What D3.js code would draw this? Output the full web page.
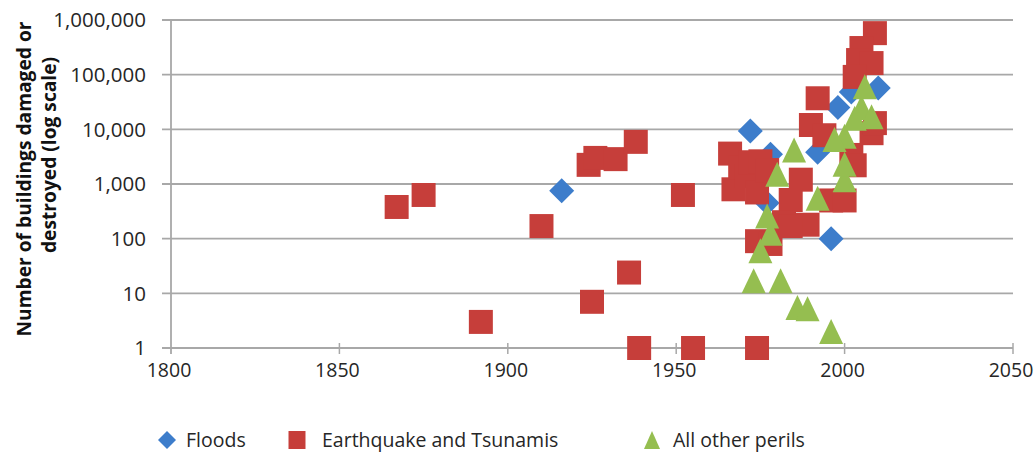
<!DOCTYPE html>
<html>
<head>
<meta charset="utf-8">
<script src="https://cdn.jsdelivr.net/npm/d3@7"></script>
<style>
  html, body { margin: 0; padding: 0; background: #ffffff; }
  svg { display: block; font-family: "Open Sans", "Noto Sans", sans-serif; }
</style>
</head>
<body>
<svg id="chart" width="1034" height="456"></svg>
<script>
// Buildings damaged or destroyed per event, by peril type (log scale)
const floodYears  = [1916, 1972, 1977, 1978, 1992, 1996, 1998, 2002, 2010];
const floodValues = [750, 9300, 450, 3500, 3800, 100, 25000, 48000, 57000];

const quakeYears  = [1867, 1875, 1892, 1910, 1924, 1925, 1926, 1932, 1936, 1938, 1939, 1952, 1955, 1974,
                     1966, 1967, 1969, 1971, 1972, 1974, 1975, 1977, 1974, 1978,
                     1987, 1984, 1982, 1989, 1984, 1996, 2000, 2002, 2003,
                     1990, 1994, 1992, 2008, 2009, 2005, 2004, 2008, 2003, 2009];
const quakeValues = [380, 630, 3, 170, 2240, 7, 3000, 2850, 24, 5900, 1, 630, 1, 1,
                     3600, 800, 2000, 1400, 2500, 700, 2600, 1800, 90, 80,
                     1200, 510, 200, 180, 170, 500, 500, 3400, 2200,
                     12000, 7800, 37000, 8500, 575000, 307000, 185000, 163000, 91000, 13000];

const otherYears  = [1973, 1981, 1986, 1989, 1996, 1975, 1978, 1977, 1980, 1985, 1992,
                     2000, 2000, 2000, 1997, 2003, 2005, 2006, 2008];
const otherValues = [17, 17, 5.5, 5.2, 2, 60, 125, 260, 1500, 4200, 550,
                     1200, 2300, 7500, 6500, 16000, 25000, 60000, 17000];

const yTickValues = [1, 10, 100, 1000, 10000, 100000, 1000000];
const xTickValues = [1800, 1850, 1900, 1950, 2000, 2050];

const seriesNames = ["Floods", "Earthquake and Tsunamis", "All other perils"];
const seriesColors = ["#3d7dcb", "#c63e3a", "#95be50"];

const svg = d3.select("#chart");

const x = d3.scaleLinear().domain([1800, 2050]).range([171, 1013]);
const y = d3.scaleLog().domain([1, 1000000]).range([348, 20]);

const gridColor = "#a8a8a8";

// Horizontal gridlines with outward tick marks on the left
svg.append("g")
  .selectAll("line")
  .data(yTickValues)
  .join("line")
  .attr("x1", x(1800) - 9)
  .attr("x2", x(2050))
  .attr("y1", d => y(d))
  .attr("y2", d => y(d))
  .attr("stroke", gridColor)
  .attr("stroke-width", 1.8);

// Vertical axis line
svg.append("line")
  .attr("x1", x(1800)).attr("x2", x(1800))
  .attr("y1", y(1000000)).attr("y2", y(1) + 6)
  .attr("stroke", gridColor)
  .attr("stroke-width", 1.8);

// Year tick marks on the bottom axis
svg.append("g")
  .selectAll("line")
  .data(xTickValues.slice(1))
  .join("line")
  .attr("x1", d => x(d)).attr("x2", d => x(d))
  .attr("y1", y(1) - 5).attr("y2", y(1) + 6)
  .attr("stroke", gridColor)
  .attr("stroke-width", 1.5);

// Y tick labels
const fmt = d3.format(",");
svg.append("g")
  .selectAll("text")
  .data(yTickValues)
  .join("text")
  .attr("x", 146)
  .attr("y", d => y(d))
  .attr("dy", "0.36em")
  .attr("text-anchor", "end")
  .attr("font-size", 20.5)
  .attr("fill", "#262626")
  .text(d => fmt(d));

// X tick labels
svg.append("g")
  .selectAll("text")
  .data(xTickValues)
  .join("text")
  .attr("x", d => x(d) - 2)
  .attr("y", 377)
  .attr("text-anchor", "middle")
  .attr("font-size", 19.5)
  .attr("fill", "#262626")
  .text(d => d);

// Axis title (two rotated lines)
const titleLines = [
  { text: "Number of buildings damaged or", bx: 31, cy: 179 },
  { text: "destroyed (log scale)", bx: 56, cy: 155 }
];
svg.append("g")
  .selectAll("text")
  .data(titleLines)
  .join("text")
  .attr("transform", d => `translate(${d.bx},${d.cy}) rotate(-90)`)
  .attr("text-anchor", "middle")
  .attr("font-size", 19.2)
  .attr("font-weight", "bold")
  .attr("fill", "#111111")
  .text(d => d.text);

// Marker shapes
const diamond = (s) => `M0,${-s/2}L${s*0.5},0L0,${s/2}L${-s*0.5},0Z`;
const square = (w, h) => `M${-w/2},${-h/2}h${w}v${h}h${-w}Z`;
const triangle = (w, h) => `M0,${-h/2}L${w/2},${h/2}L${-w/2},${h/2}Z`;

const markerPaths = [diamond(25), square(24, 24), triangle(24, 25)];

const series = [
  { years: floodYears, values: floodValues },
  { years: quakeYears, values: quakeValues },
  { years: otherYears, values: otherValues }
];

const plot = svg.append("g");
series.forEach((s, i) => {
  const pts = s.years.map((yr, k) => ({ year: yr, value: s.values[k] }));
  plot.append("g")
    .selectAll("path")
    .data(pts)
    .join("path")
    .attr("transform", d => `translate(${x(d.year)},${y(d.value)})`)
    .attr("d", markerPaths[i])
    .attr("fill", seriesColors[i]);
});

// Legend
const legendItems = [
  { mx: 167, tx: 186, path: diamond(18) },
  { mx: 297, tx: 322, path: square(17, 18) },
  { mx: 652, tx: 673, path: triangle(16, 18) }
];
const legend = svg.append("g");
legendItems.forEach((it, i) => {
  legend.append("path")
    .attr("transform", `translate(${it.mx},440)`)
    .attr("d", it.path)
    .attr("fill", seriesColors[i]);
  legend.append("text")
    .attr("x", it.tx)
    .attr("y", 440)
    .attr("dy", "0.36em")
    .attr("font-size", 19.5)
    .attr("fill", "#262626")
    .text(seriesNames[i]);
});
</script>
</body>
</html>
